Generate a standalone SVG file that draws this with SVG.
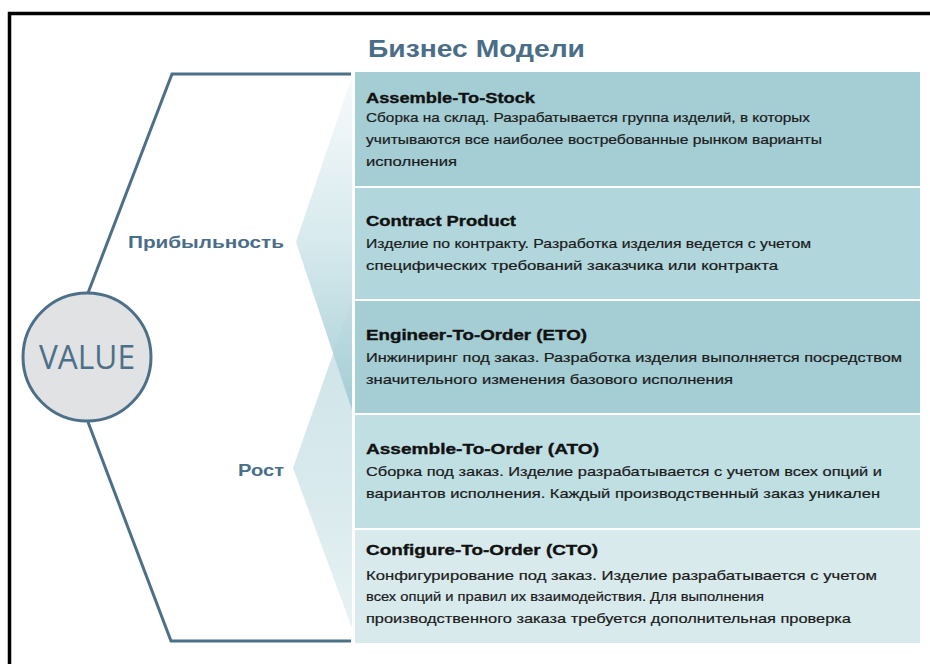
<svg xmlns="http://www.w3.org/2000/svg" width="930" height="664" viewBox="0 0 930 664">
  <style>
    .frame { fill: none; stroke: #000; stroke-width: 3.5; }
    .branch { fill: none; stroke: #4d7089; stroke-width: 3; }
    .hub { fill: #e1e2e4; stroke: #4d7089; stroke-width: 3; }
    .hub-text { font-family: "Open Sans", "Liberation Sans", sans-serif; font-weight: 400; font-size: 33px; fill: #4d7089; }
    .heading { font-family: "Liberation Sans", Arial, sans-serif; font-weight: bold; font-size: 24px; fill: #4a6d88; }
    .axis { font-family: "Liberation Sans", Arial, sans-serif; font-weight: bold; font-size: 16px; fill: #4a6d88; }
    .ttl { font-family: "Liberation Sans", Arial, sans-serif; font-weight: bold; font-size: 15px; fill: #111; stroke: #111; stroke-width: 0.35; }
    .txt { font-family: "Liberation Sans", Arial, sans-serif; font-size: 13.5px; fill: #1a1a1a; stroke: #1a1a1a; stroke-width: 0.2; }
  </style>
  <defs>
    <linearGradient id="gUp" x1="0" y1="0" x2="0" y2="1">
      <stop offset="0" stop-color="#f6fafb"/>
      <stop offset="0.5" stop-color="#d2e7eb"/>
      <stop offset="1" stop-color="#9fcad2"/>
    </linearGradient>
    <linearGradient id="gDown" x1="0" y1="0" x2="0" y2="1">
      <stop offset="0" stop-color="#cde3e8"/>
      <stop offset="0.6" stop-color="#d9eaed"/>
      <stop offset="1" stop-color="#e8f2f4"/>
    </linearGradient>
  </defs>

  <rect width="930" height="664" fill="#fff"/>
  <path class="frame" d="M9.5,664 V13.5 H930"/>

  <text class="heading" x="368" y="57" textLength="217" lengthAdjust="spacingAndGlyphs">Бизнес Модели</text>

  <!-- fanning chevrons between the branches and the model list -->
  <polygon points="352,300 293,468 352,628" fill="url(#gDown)"/>
  <polygon points="352,76 296,242 352,410" fill="url(#gUp)" fill-opacity="0.9"/>

  <!-- model rows -->
  <g id="row-ats">
    <rect x="355" y="72" width="565" height="114" fill="#a4cdd4"/>
    <text class="ttl" x="366" y="103" textLength="169" lengthAdjust="spacingAndGlyphs">Assemble-To-Stock</text>
    <text class="txt" x="366" y="122" textLength="444" lengthAdjust="spacingAndGlyphs">Сборка на склад. Разрабатывается группа изделий, в которых</text>
    <text class="txt" x="366" y="144" textLength="456" lengthAdjust="spacingAndGlyphs">учитываются все наиболее востребованные рынком варианты</text>
    <text class="txt" x="366" y="166" textLength="91" lengthAdjust="spacingAndGlyphs">исполнения</text>
  </g>
  <g id="row-contract">
    <rect x="355" y="188" width="565" height="111" fill="#b1d7dc"/>
    <text class="ttl" x="366" y="226" textLength="150" lengthAdjust="spacingAndGlyphs">Contract Product</text>
    <text class="txt" x="366" y="248" textLength="445" lengthAdjust="spacingAndGlyphs">Изделие по контракту. Разработка изделия ведется с учетом</text>
    <text class="txt" x="366" y="270" textLength="412" lengthAdjust="spacingAndGlyphs">специфических требований  заказчика или контракта</text>
  </g>
  <g id="row-eto">
    <rect x="355" y="301" width="565" height="112" fill="#a4cdd4"/>
    <text class="ttl" x="366" y="340" textLength="221" lengthAdjust="spacingAndGlyphs">Engineer-To-Order (ETO)</text>
    <text class="txt" x="366" y="362" textLength="536" lengthAdjust="spacingAndGlyphs">Инжиниринг под заказ. Разработка изделия выполняется посредством</text>
    <text class="txt" x="366" y="384" textLength="367" lengthAdjust="spacingAndGlyphs">значительного изменения  базового исполнения</text>
  </g>
  <g id="row-ato">
    <rect x="355" y="415" width="565" height="113" fill="#bfdfe3"/>
    <text class="ttl" x="366" y="454" textLength="233" lengthAdjust="spacingAndGlyphs">Assemble-To-Order (ATO)</text>
    <text class="txt" x="366" y="476" textLength="516" lengthAdjust="spacingAndGlyphs">Сборка под заказ. Изделие разрабатывается с учетом всех опций и</text>
    <text class="txt" x="366" y="498" textLength="514" lengthAdjust="spacingAndGlyphs">вариантов исполнения.  Каждый производственный заказ уникален</text>
  </g>
  <g id="row-cto">
    <rect x="355" y="530" width="565" height="113" fill="#d9eaed"/>
    <text class="ttl" x="366" y="555" textLength="232" lengthAdjust="spacingAndGlyphs">Configure-To-Order (CTO)</text>
    <text class="txt" x="366" y="580" textLength="511" lengthAdjust="spacingAndGlyphs">Конфигурирование под заказ. Изделие  разрабатывается с учетом</text>
    <text class="txt" x="366" y="601" textLength="398" lengthAdjust="spacingAndGlyphs">всех опций и правил их взаимодействия. Для выполнения</text>
    <text class="txt" x="366" y="623" textLength="485" lengthAdjust="spacingAndGlyphs">производственного заказа требуется дополнительная проверка</text>
  </g>

  <!-- branches from the hub -->
  <g id="connectors">
    <path class="branch" d="M88,293 L172,74 H351"/>
    <path class="branch" d="M88,422 L171,641 H351"/>
  </g>

  <g id="hub">
    <circle class="hub" cx="87" cy="357" r="64"/>
    <text class="hub-text" x="87" y="369" text-anchor="middle" textLength="96" lengthAdjust="spacingAndGlyphs">VALUE</text>
  </g>

  <g id="axis-profit">
    <text class="axis" x="284" y="248" text-anchor="end" textLength="156" lengthAdjust="spacingAndGlyphs">Прибыльность</text>
  </g>
  <g id="axis-growth">
    <text class="axis" x="284" y="476" text-anchor="end" textLength="46" lengthAdjust="spacingAndGlyphs">Рост</text>
  </g>
</svg>
